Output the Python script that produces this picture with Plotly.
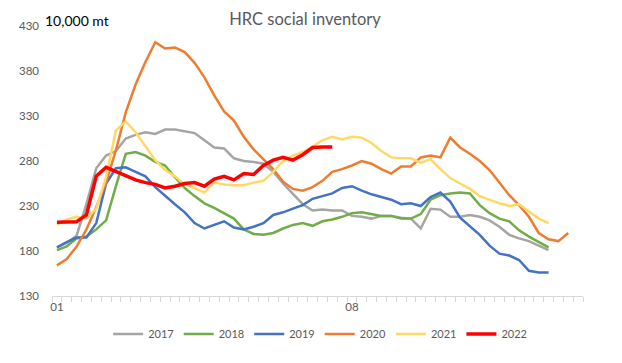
import plotly.graph_objects as go

# ---- data (10,000 mt), weekly, week index starting at 1 ----
years = ["2017", "2018", "2019", "2020", "2021", "2022"]
colors = ["#A5A5A5", "#70AD47", "#4472C4", "#ED7D31", "#FFD966", "#FF0000"]

v2017 = [184, 189, 197, 232, 272, 286, 291, 305, 309, 312, 310, 315, 315, 313, 311, 303,
         295, 294, 283, 280, 279, 277, 268, 255, 244, 232, 225, 226, 225, 225, 219, 218,
         216, 219, 219, 217, 216, 205, 227, 226, 218, 218, 220, 218, 214, 207, 198, 194,
         191, 186, 181]
v2018 = [181, 185, 194, 196, 204, 214, 252, 288, 290, 286, 279, 275, 262, 250, 241, 233,
         228, 222, 216, 204, 199, 198, 200, 205, 209, 211, 208, 213, 215, 218, 222, 223,
         221, 219, 219, 216, 216, 221, 237, 242, 244, 245, 244, 231, 222, 216, 213, 203,
         196, 190, 184]
v2019 = [184, 190, 195, 195, 211, 255, 272, 273, 268, 263, 251, 241, 232, 223, 211, 205,
         209, 213, 206, 204, 207, 211, 220, 223, 227, 231, 238, 241, 244, 250, 252, 247,
         243, 240, 237, 232, 233, 230, 240, 245, 235, 217, 208, 198, 186, 177, 175, 170,
         158, 156, 156]
v2020 = [164, 171, 185, 204, 229, 256, 292, 334, 365, 390, 412, 405, 406, 401, 389, 373,
         353, 335, 325, 307, 293, 282, 271, 257, 249, 247, 251, 258, 268, 271, 275, 280,
         277, 271, 266, 274, 274, 284, 286, 284, 306, 295, 288, 280, 270, 256, 242, 231,
         218, 200, 193, 191, 200]
v2021 = [209, 215, 218, 216, 227, 262, 314, 324, 312, 296, 281, 270, 263, 254, 250, 245,
         256, 254, 253, 253, 256, 258, 268, 280, 286, 290, 296, 303, 307, 304, 307, 306,
         300, 291, 284, 283, 283, 278, 282, 271, 261, 255, 249, 241, 237, 233, 230, 232,
         224, 216, 211]
v2022 = [212, 212, 212.5, 220, 263, 273, 268, 263, 259, 256, 254, 250, 252, 255, 256, 252,
         260, 263, 259, 266, 265, 275, 281, 284, 281, 287, 295, 295.5, 295.5]

series = [v2017, v2018, v2019, v2020, v2021, v2022]
widths = [2.5, 2.5, 2.5, 2.5, 2.5, 3.5]

n_weeks = 54
tick_weeks = [1, 31]
tick_labels = ["01", "08"]

FONT = "Lato, 'Open Sans', sans-serif"

fig = go.Figure()
for name, vals, col, w in zip(years, series, colors, widths):
    fig.add_trace(go.Scatter(
        x=list(range(1, len(vals) + 1)), y=vals, name=name, mode="lines",
        line=dict(color=col, width=w), hoverinfo="skip"))

fig.update_layout(
    width=622, height=363,
    margin=dict(l=37, r=47, t=11, b=75),
    paper_bgcolor="white", plot_bgcolor="white",
    font=dict(family=FONT, color="#595959", size=11),
    title=dict(text="HRC social inventory", x=297 / 622, xanchor="center",
               xref="container", yref="container", y=1 - 11.5 / 363, yanchor="middle",
               font=dict(family=FONT, size=16.5, color="#595959")),
    showlegend=True,
    legend=dict(orientation="h", x=0.505, xanchor="center", y=-0.141, yanchor="middle",
                font=dict(family=FONT, size=11, color="#595959"),
                bgcolor="rgba(0,0,0,0)", itemwidth=30),
    xaxis=dict(range=[0.5, n_weeks + 0.5], tickvals=tick_weeks, ticktext=tick_labels,
               ticks="", showgrid=False, zeroline=False, showline=True,
               linecolor="#D9D9D9", linewidth=1,
               tickfont=dict(family=FONT, size=11.5, color="#595959"),
               minor=dict(ticks="outside", tick0=0.5, dtick=1, ticklen=5,
                          tickcolor="#D9D9D9", tickwidth=1, showgrid=False)),
    yaxis=dict(range=[130, 430], dtick=50, tick0=130, showgrid=False, zeroline=False,
               showline=False, ticks="", ticklabelstandoff=12,
               tickfont=dict(family=FONT, size=11.5, color="#595959")),
    annotations=[dict(text="10,000 mt", xref="paper", yref="paper", x=-0.017, y=1.0217,
                      xanchor="left", yanchor="middle", showarrow=False,
                      font=dict(family=FONT, size=14, color="black"))],
)

fig.write_html("out.html")
